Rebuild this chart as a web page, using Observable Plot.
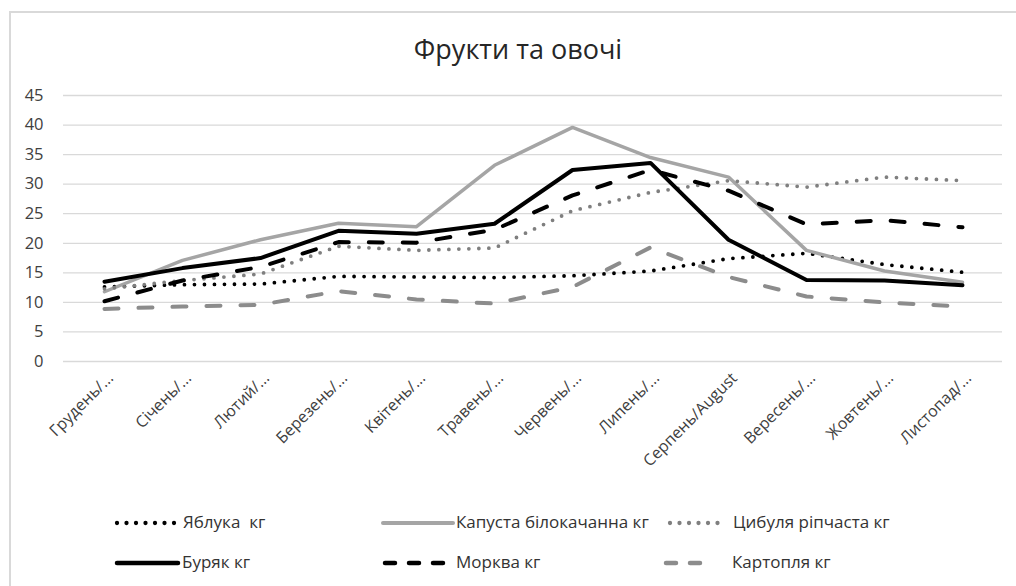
<!DOCTYPE html>
<html>
<head>
<meta charset="utf-8">
<script src="https://cdn.jsdelivr.net/npm/d3@7"></script>
<script src="https://cdn.jsdelivr.net/npm/@observablehq/plot@0.6"></script>
<style>
  body { margin:0; width:1016px; height:586px; position:relative; overflow:hidden; background:#fff; font-family:"Open Sans", sans-serif; }
  #frame { position:absolute; left:9px; top:11px; width:1100px; height:700px; border-left:2px solid #d9d9d9; border-top:2px solid #d9d9d9; }
  #title { position:absolute; left:0; top:30px; width:1036px; text-align:center; font-size:27px; color:#262626; }
  #chart { position:absolute; left:0; top:80px; }
  .leg { position:absolute; font-size:17px; color:#333333; white-space:pre; line-height:22px; }
  .sw { position:absolute; }
</style>
</head>
<body>
<div id="frame"></div>
<div id="title">Фрукти та овочі</div>
<div id="chart"></div>
<div id="legend"></div>
<script>
const months = ["Грудень/...", "Січень/...", "Лютий/...", "Березень/...", "Квітень/...", "Травень/...", "Червень/...", "Липень/...", "Серпень/August", "Вересень/...", "Жовтень/...", "Листопад/..."];
const seriesNames = ["Яблука  кг", "Капуста білокачанна кг", "Цибуля ріпчаста кг", "Буряк кг", "Морква кг", "Картопля кг"];
const apples   = [12.6, 13.0, 13.1, 14.4, 14.3, 14.2, 14.5, 15.3, 17.4, 18.3, 16.4, 15.1];
const cabbage  = [11.8, 17.1, 20.6, 23.4, 22.8, 33.2, 39.6, 34.5, 31.2, 18.8, 15.3, 13.4];
const onion    = [12.3, 13.7, 14.8, 19.5, 18.8, 19.2, 25.5, 28.6, 30.6, 29.5, 31.2, 30.6];
const beet     = [13.5, 15.8, 17.5, 22.1, 21.6, 23.3, 32.4, 33.6, 20.6, 13.8, 13.7, 12.9];
const carrot   = [10.2, 13.7, 16.0, 20.2, 20.1, 22.3, 28.1, 32.4, 28.9, 23.2, 23.9, 22.7];
const potato   = [8.9, 9.3, 9.6, 11.9, 10.5, 9.8, 12.6, 19.3, 14.3, 11.0, 10.0, 9.3];
const yTicks = [0, 5, 10, 15, 20, 25, 30, 35, 40, 45];

const values = [apples, cabbage, onion, beet, carrot, potato];
const styles = [
  {stroke:"#000000", width:3.8, dash:"0 10"},
  {stroke:"#a5a5a5", width:3.5, dash:null},
  {stroke:"#7f7f7f", width:3.8, dash:"0 10"},
  {stroke:"#000000", width:4,   dash:null},
  {stroke:"#000000", width:4,   dash:"14 20"},
  {stroke:"#8c8c8c", width:4,   dash:"14 20"}
];

const lineMarks = values.map((vals, s) => Plot.line(
  months.map((m, i) => ({month: m, value: vals[i]})),
  {x: "month", y: "value", stroke: styles[s].stroke, strokeWidth: styles[s].width,
   strokeDasharray: styles[s].dash || undefined, strokeLinecap: "round", strokeLinejoin: "round"}
));

const chart = Plot.plot({
  width: 1016, height: 420,
  marginTop: 15, marginBottom: 139, marginLeft: 63, marginRight: 14,
  style: {fontFamily: "'Open Sans', sans-serif", fontSize: "16px", color: "#404040", background: "transparent"},
  x: {type: "point", domain: months, padding: 0.5},
  y: {domain: [0, 45], ticks: yTicks},
  marks: [
    Plot.ruleY(yTicks, {stroke: "#d9d9d9", strokeWidth: 1.3}),
    Plot.axisY({ticks: yTicks, tickSize: 0, tickPadding: 20, fontSize: 16.5, label: null}),
    Plot.axisX({tickSize: 0, tickRotate: -45, tickPadding: 14, dx: 6, fontSize: 16, label: null}),
    ...lineMarks
  ]
});
document.getElementById("chart").appendChild(chart);

// legend
const legPos = [
  {sx:117, sw:58, tx:183, y:523},
  {sx:383, sw:70, tx:456, y:523},
  {sx:670, sw:50, tx:733, y:523},
  {sx:117, sw:61, tx:182, y:563},
  {sx:385, sw:60, tx:456, y:563},
  {sx:666, sw:46, tx:732, y:563}
];
const leg = document.getElementById("legend");
seriesNames.forEach((name, s) => {
  const p = legPos[s], st = styles[s];
  const svg = d3.create("svg").attr("class", "sw").attr("width", p.sw + 8).attr("height", 12)
    .style("left", (p.sx - 4) + "px").style("top", (p.y - 6) + "px");
  svg.append("line").attr("x1", 4).attr("x2", 4 + p.sw).attr("y1", 6).attr("y2", 6)
    .attr("stroke", st.stroke).attr("stroke-width", st.width + 0.5)
    .attr("stroke-linecap", "round")
    .attr("stroke-dasharray", st.dash ? (st.dash === "0 10" ? "0 9.5" : "10 14") : null);
  leg.appendChild(svg.node());
  const t = document.createElement("div");
  t.className = "leg"; t.textContent = name;
  t.style.left = p.tx + "px"; t.style.top = (p.y - 12) + "px";
  leg.appendChild(t);
});
</script>
</body>
</html>
